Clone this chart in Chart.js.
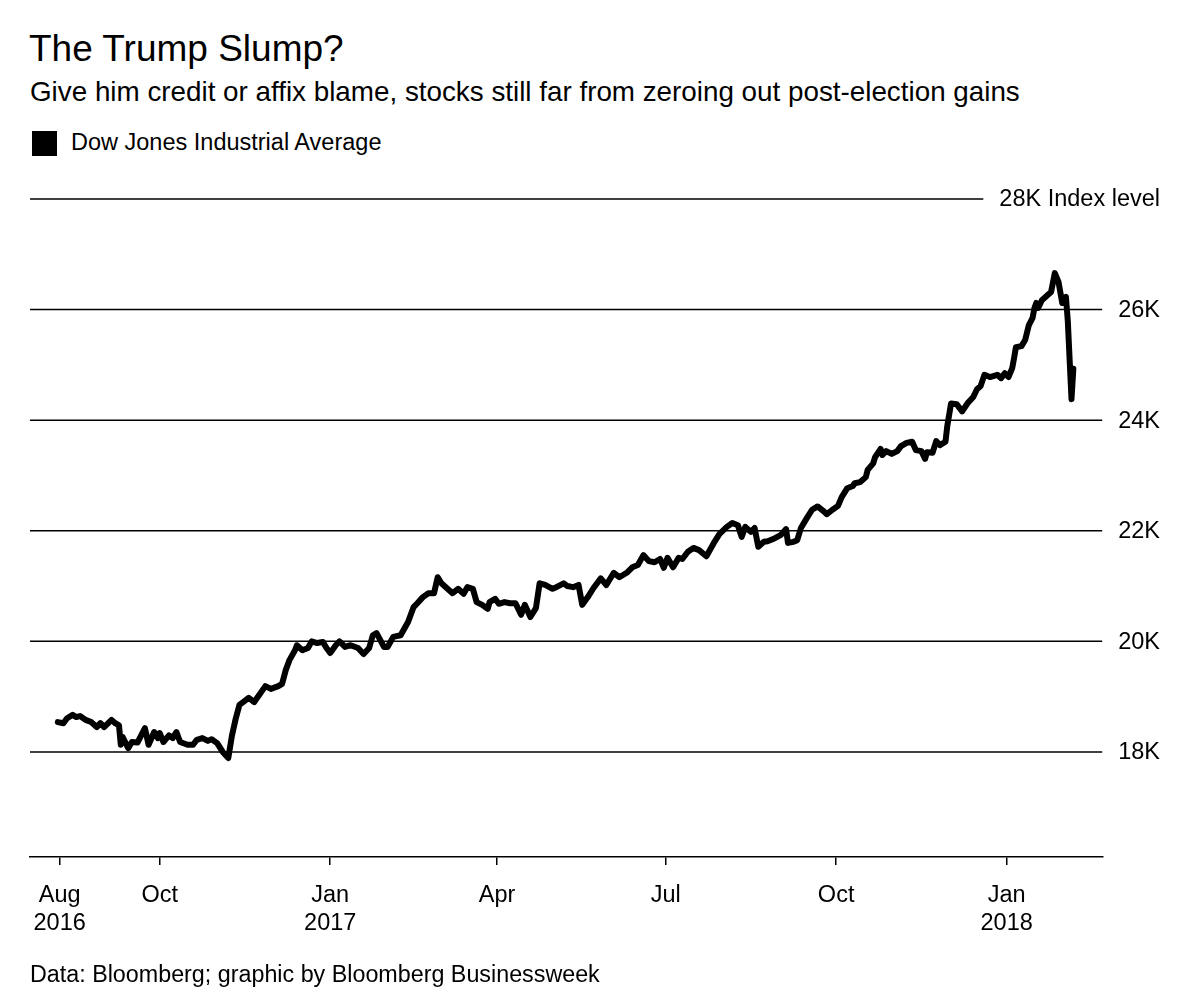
<!DOCTYPE html>
<html>
<head>
<meta charset="utf-8">
<title>The Trump Slump?</title>
<script src="https://cdn.jsdelivr.net/npm/chart.js@4.4.1/dist/chart.umd.min.js"></script>
<style>
  body { margin: 0; background: #fff; }
  #wrap { position: relative; width: 1200px; height: 1008px; font-family: "Liberation Sans", Arial, sans-serif; color: #000; }
  #wrap .txt { position: absolute; white-space: nowrap; line-height: 1; }
  #title { left: 29px; top: 30px; font-size: 37px; }
  #subtitle { left: 30px; top: 78px; font-size: 27.8px; }
  #legend { left: 71px; top: 131px; font-size: 23.5px; }
  #swatch { position: absolute; left: 32px; top: 131px; width: 25px; height: 25px; background: #000; }
  #source { left: 30px; top: 963px; font-size: 23.3px; }
  canvas { position: absolute; left: 0; top: 0; }
</style>
</head>
<body>
<div id="wrap">
  <div class="txt" id="title">The Trump Slump?</div>
  <div class="txt" id="subtitle">Give him credit or affix blame, stocks still far from zeroing out post-election gains</div>
  <div id="swatch"></div>
  <div class="txt" id="legend">Dow Jones Industrial Average</div>
  <canvas id="chart" width="1200" height="1008"></canvas>
  <div class="txt" id="source">Data: Bloomberg; graphic by Bloomberg Businessweek</div>
</div>
<script>
// Dow Jones Industrial Average
const dates = [
  '2016-08-07','2016-08-10','2016-08-12','2016-08-15','2016-08-17','2016-08-19','2016-08-22','2016-08-25',
  '2016-08-28','2016-08-30','2016-09-01','2016-09-05','2016-09-07','2016-09-09','2016-09-10','2016-09-11',
  '2016-09-14','2016-09-16','2016-09-19','2016-09-23','2016-09-25','2016-09-28','2016-09-30','2016-10-01',
  '2016-10-03','2016-10-06','2016-10-08','2016-10-10','2016-10-12','2016-10-16','2016-10-19','2016-10-21',
  '2016-10-24','2016-10-27','2016-10-29','2016-11-01','2016-11-04','2016-11-07','2016-11-09','2016-11-11',
  '2016-11-13','2016-11-15','2016-11-18','2016-11-21','2016-11-23','2016-11-27','2016-11-30','2016-12-04',
  '2016-12-06','2016-12-08','2016-12-10','2016-12-13','2016-12-14','2016-12-17','2016-12-20','2016-12-22',
  '2016-12-25','2016-12-28','2016-12-30','2017-01-01','2017-01-04','2017-01-06','2017-01-09','2017-01-12',
  '2017-01-16','2017-01-19','2017-01-22','2017-01-24','2017-01-26','2017-01-30','2017-02-01','2017-02-04',
  '2017-02-08','2017-02-12','2017-02-15','2017-02-17','2017-02-20','2017-02-23','2017-02-26','2017-02-28',
  '2017-03-02','2017-03-05','2017-03-08','2017-03-11','2017-03-14','2017-03-16','2017-03-19','2017-03-21',
  '2017-03-24','2017-03-27','2017-03-28','2017-03-31','2017-04-02','2017-04-05','2017-04-08','2017-04-11',
  '2017-04-14','2017-04-16','2017-04-19','2017-04-22','2017-04-24','2017-04-27','2017-05-01','2017-05-03',
  '2017-05-07','2017-05-09','2017-05-12','2017-05-15','2017-05-17','2017-05-20','2017-05-23','2017-05-27',
  '2017-05-30','2017-06-03','2017-06-06','2017-06-10','2017-06-13','2017-06-16','2017-06-19','2017-06-22',
  '2017-06-25','2017-06-28','2017-06-30','2017-07-02','2017-07-05','2017-07-08','2017-07-10','2017-07-13',
  '2017-07-16','2017-07-19','2017-07-23','2017-07-27','2017-07-30','2017-08-03','2017-08-06','2017-08-09',
  '2017-08-11','2017-08-13','2017-08-16','2017-08-18','2017-08-20','2017-08-23','2017-08-25','2017-08-28',
  '2017-09-01','2017-09-04','2017-09-05','2017-09-08','2017-09-10','2017-09-12','2017-09-15','2017-09-18',
  '2017-09-21','2017-09-24','2017-09-26','2017-09-29','2017-10-02','2017-10-04','2017-10-07','2017-10-10',
  '2017-10-11','2017-10-14','2017-10-17','2017-10-18','2017-10-21','2017-10-22','2017-10-25','2017-10-26',
  '2017-10-28','2017-10-31','2017-11-03','2017-11-05','2017-11-08','2017-11-11','2017-11-13','2017-11-16',
  '2017-11-18','2017-11-19','2017-11-22','2017-11-24','2017-11-26','2017-11-29','2017-11-30','2017-12-02',
  '2017-12-05','2017-12-08','2017-12-11','2017-12-14','2017-12-16','2017-12-18','2017-12-20','2017-12-23',
  '2017-12-27','2017-12-29','2017-12-31','2018-01-02','2018-01-04','2018-01-05','2018-01-06','2018-01-09',
  '2018-01-11','2018-01-13','2018-01-15','2018-01-16','2018-01-17','2018-01-18','2018-01-20','2018-01-23',
  '2018-01-25','2018-01-27','2018-01-29','2018-01-31','2018-02-02','2018-02-03','2018-02-05','2018-02-06'
];
const dowValues = [
  18540,18520,18610,18670,18630,18650,18580,18540,
  18450,18520,18450,18580,18520,18480,18130,18270,
  18070,18180,18170,18430,18130,18360,18250,18340,
  18180,18300,18250,18360,18180,18130,18130,18220,
  18250,18200,18230,18160,18000,17890,18300,18600,
  18850,18900,18980,18900,19000,19190,19140,19190,
  19230,19480,19660,19840,19930,19840,19880,20000,
  19970,19990,19880,19790,19930,20000,19900,19930,
  19880,19770,19880,20110,20150,19900,19900,20080,
  20110,20350,20620,20690,20800,20870,20870,21160,
  21050,20960,20870,20950,20860,20980,20950,20710,
  20660,20590,20710,20770,20680,20710,20690,20690,
  20480,20660,20440,20600,21050,21020,20950,20980,
  21050,21000,20980,21020,20660,20800,20960,21140,
  21020,21240,21160,21240,21340,21380,21560,21450,
  21430,21490,21330,21510,21340,21510,21490,21620,
  21690,21650,21540,21780,21940,22070,22140,22100,
  21890,22070,21980,22050,21710,21800,21810,21850,
  21920,22030,21780,21800,21830,22050,22220,22380,
  22440,22360,22300,22380,22450,22610,22770,22810,
  22860,22880,22970,23100,23220,23330,23480,23370,
  23440,23390,23440,23530,23590,23610,23460,23440,
  23300,23420,23410,23620,23550,23610,23900,24300,
  24290,24160,24310,24420,24560,24620,24820,24780,
  24820,24760,24850,24780,24940,25120,25320,25340,
  25450,25720,25850,26030,26120,26030,26170,26260,
  26320,26660,26500,26120,26230,25800,24380,24930
];

// axes
const xStart = '2016-07-23';
const xEnd = '2018-02-22';
const xTickDates = ['2016-08-08', '2016-10-01', '2017-01-01', '2017-04-01', '2017-07-01', '2017-10-01', '2018-01-01'];
const xTickLabels = [['Aug', '2016'], 'Oct', ['Jan', '2017'], 'Apr', 'Jul', 'Oct', ['Jan', '2018']];
const yMin = 16100;
const yMax = 28000;
const yTicks = [18000, 20000, 22000, 24000, 26000, 28000];
const yTickLabels = ['18K', '20K', '22K', '24K', '26K', '28K Index level'];

const FONT = '"Liberation Sans", Arial, sans-serif';
const origin = Date.parse('2016-08-01');
const day = d => (Date.parse(d) - origin) / 864e5;

// horizontal rules + right-hand labels (28K rule stops short of its label)
const indexGrid = {
  id: 'indexGrid',
  beforeDatasetsDraw(chart) {
    const { ctx, chartArea, scales: { y } } = chart;
    const labelRight = 1160;
    ctx.save();
    ctx.font = '23.5px ' + FONT;
    ctx.textAlign = 'right';
    ctx.textBaseline = 'middle';
    ctx.fillStyle = '#000';
    ctx.strokeStyle = '#000';
    ctx.lineWidth = 1.5;
    yTicks.forEach((v, i) => {
      const py = y.getPixelForValue(v);
      const w = ctx.measureText(yTickLabels[i]).width;
      const end = Math.min(chartArea.right, labelRight - w - 16);
      ctx.beginPath();
      ctx.moveTo(chartArea.left, py);
      ctx.lineTo(end, py);
      ctx.stroke();
      ctx.fillText(yTickLabels[i], labelRight, py + 1);
    });
    ctx.restore();
  }
};

Chart.defaults.font.family = FONT;
Chart.defaults.color = '#000';

new Chart(document.getElementById('chart'), {
  type: 'line',
  data: {
    datasets: [{
      label: 'Dow Jones Industrial Average',
      data: dates.map((d, i) => ({ x: day(d), y: dowValues[i] })),
      borderColor: '#000',
      borderWidth: 6,
      borderJoinStyle: 'round',
      borderCapStyle: 'round',
      pointRadius: 0,
      tension: 0,
      fill: false
    }]
  },
  options: {
    responsive: false,
    animation: false,
    layout: { padding: { left: 30, right: 97, top: 199, bottom: 0 } },
    plugins: { legend: { display: false }, tooltip: { enabled: false } },
    scales: {
      x: {
        type: 'linear',
        min: day(xStart),
        max: day(xEnd),
        afterBuildTicks: s => { s.ticks = xTickDates.map(d => ({ value: day(d) })); },
        afterFit: s => { s.height = 151; },
        grid: { drawOnChartArea: false, drawTicks: true, tickLength: 8, color: '#000', lineWidth: 1.5 },
        border: { display: true, color: '#000', width: 1.5 },
        ticks: {
          autoSkip: false,
          maxRotation: 0,
          padding: 16,
          font: { size: 23.5 },
          callback: (v, i) => xTickLabels[i]
        }
      },
      y: {
        type: 'linear',
        min: yMin,
        max: yMax,
        display: false
      }
    }
  },
  plugins: [indexGrid]
});
</script>
</body>
</html>
